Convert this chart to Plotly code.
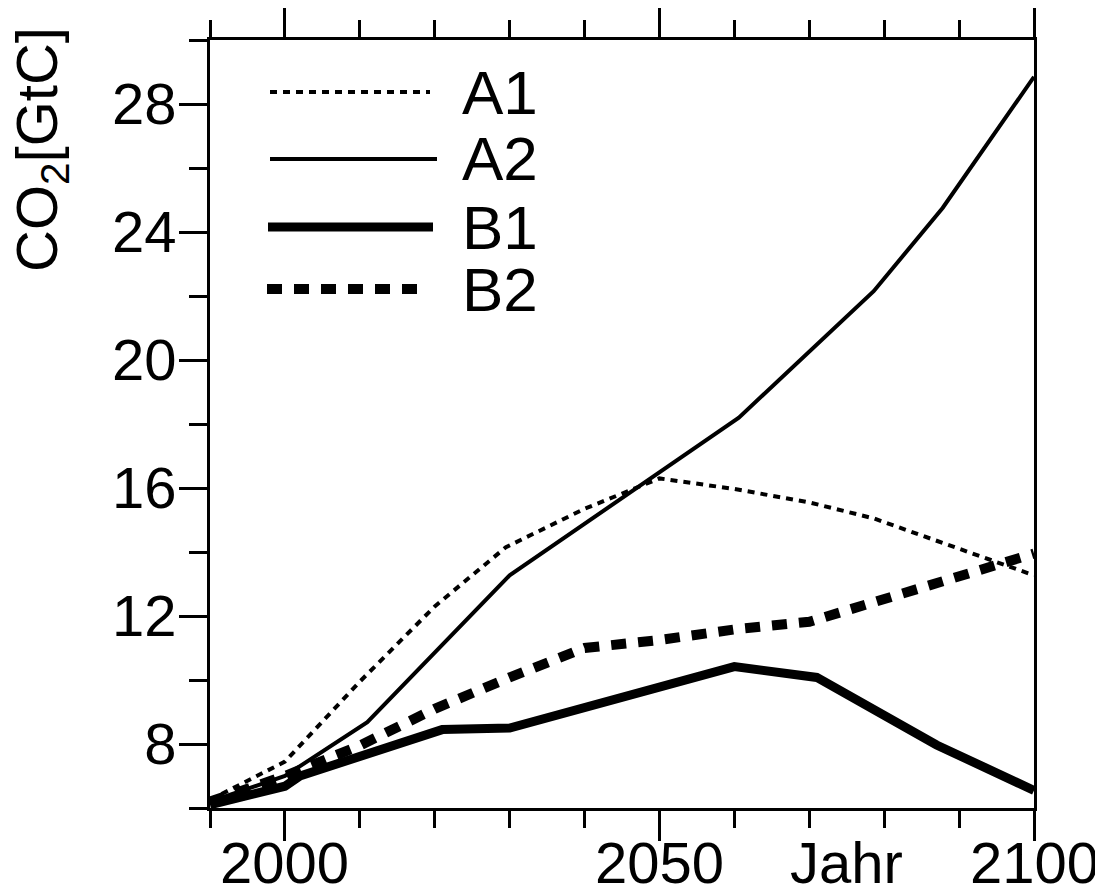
import plotly.graph_objects as go

# ---- data ----
years_A1 = [1990, 2000, 2010, 2020, 2029.5, 2040, 2050, 2060, 2070, 2078.6, 2100]
co2_A1 = [6.25, 7.45, 9.95, 12.3, 14.15, 15.35, 16.3, 15.97, 15.55, 15.05, 13.27]

years_A2 = [1990, 2000, 2011, 2030, 2060.6, 2078.6, 2087.8, 2100]
co2_A2 = [6.2, 7.0, 8.68, 13.27, 18.2, 22.15, 24.75, 28.85]

years_B1 = [1990, 2000, 2002, 2010, 2021, 2030, 2040, 2050, 2060, 2071, 2080, 2087, 2100]
co2_B1 = [6.1, 6.68, 7.0, 7.6, 8.45, 8.5, 9.15, 9.8, 10.42, 10.08, 8.91, 7.97, 6.55]

years_B2 = [1990, 2000, 2010, 2020, 2030, 2040, 2050, 2060, 2070, 2100]
co2_B2 = [6.2, 7.0, 7.95, 9.1, 10.08, 11.0, 11.25, 11.58, 11.82, 13.95]

series_names = ["A1", "A2", "B1", "B2"]

x_major = [2000, 2050, 2100]
x_major_text = ["2000", "2050", "2100"]
x_minor = [1990, 2010, 2020, 2030, 2040, 2060, 2070, 2080, 2090]
x_extra_label = "Jahr"
x_extra_pos = 2075

y_major = [8, 12, 16, 20, 24, 28]
y_minor = [6, 10, 14, 18, 22, 26, 30]
y_title = "CO<sub>2</sub>[GtC]"

FONT = "Liberation Sans, Arial, Helvetica, sans-serif"

styles = {
    "A1": dict(color="black", width=4, dash="7px,6px"),
    "A2": dict(color="black", width=4),
    "B1": dict(color="black", width=9),
    "B2": dict(color="black", width=10, dash="15px,12px"),
}

fig = go.Figure()
for name, xs, ys in [("B2", years_B2, co2_B2), ("B1", years_B1, co2_B1),
                     ("A2", years_A2, co2_A2), ("A1", years_A1, co2_A1)]:
    fig.add_trace(go.Scatter(x=xs, y=ys, mode="lines", name=name,
                             line=styles[name], showlegend=False,
                             hoverinfo="x+y+name"))

# page offset (default body margin) and plot area, in page pixels
OFF = 8
W, H = 1103 - OFF, 895 - OFF
PL, PR, PT, PB = 210, 1034, 40, 808          # plot box on the page
L, R, T, B = PL - OFF, W - (PR - OFF), PT - OFF, H - (PB - OFF)
pw, ph = W - L - R, H - T - B

def px(xp):
    return (xp - PL) / pw

def py(yp):
    return 1 - (yp - PT) / ph

# custom legend (long line samples like the reference)
legend_items = [("A1", 270, 430, 92), ("A2", 270, 437, 159),
                ("B1", 268, 433, 227), ("B2", 267, 420, 289)]
shapes = []
annotations = []
for name, x0, x1, yy in legend_items:
    st = styles[name]
    shapes.append(dict(type="line", xref="paper", yref="paper",
                       x0=px(x0), x1=px(x1), y0=py(yy), y1=py(yy),
                       line=dict(color="black", width=st["width"],
                                 dash=st.get("dash", "solid"))))
    annotations.append(dict(text=name, xref="paper", yref="paper",
                            x=px(460), y=py(yy), xanchor="left", yanchor="middle",
                            showarrow=False,
                            font=dict(family=FONT, size=62, color="black")))

# x tick labels (placed as close under the ticks as in the reference)
for v, t in zip(x_major + [x_extra_pos], x_major_text + [x_extra_label]):
    annotations.append(dict(text=t, xref="x", yref="paper",
                            x=v, y=py(862), xanchor="center", yanchor="middle",
                            showarrow=False,
                            font=dict(family=FONT, size=58, color="black")))

annotations.append(dict(text=y_title, xref="paper", yref="paper",
                        x=px(41), y=py(150), xanchor="center", yanchor="middle",
                        textangle=-90, showarrow=False,
                        font=dict(family=FONT, size=58, color="black")))

fig.update_layout(
    template="none",
    width=W, height=H,
    margin=dict(l=L, r=R, t=T, b=B, pad=0, autoexpand=False),
    paper_bgcolor="white", plot_bgcolor="white",
    shapes=shapes, annotations=annotations,
    showlegend=False,
)
fig.update_xaxes(
    range=[1990, 2100], showgrid=False, zeroline=False, automargin=False,
    showline=True, linewidth=3, linecolor="black", mirror="allticks",
    tickmode="array", tickvals=x_major, showticklabels=False,
    ticks="outside", ticklen=30, tickwidth=3, tickcolor="black",
    minor=dict(tickmode="array", tickvals=x_minor, ticks="outside",
               ticklen=17, tickwidth=3, tickcolor="black", showgrid=False),
)
fig.update_yaxes(
    range=[6, 30], showgrid=False, zeroline=False, automargin=False,
    showline=True, linewidth=3, linecolor="black", mirror=True,
    tickmode="array", tickvals=y_major,
    ticks="outside", ticklen=28, tickwidth=3, tickcolor="black",
    ticklabelstandoff=-9,
    tickfont=dict(family=FONT, size=58, color="black"),
    minor=dict(tickmode="array", tickvals=y_minor, ticks="outside",
               ticklen=18, tickwidth=3, tickcolor="black", showgrid=False),
)

fig.write_html("out.html")
